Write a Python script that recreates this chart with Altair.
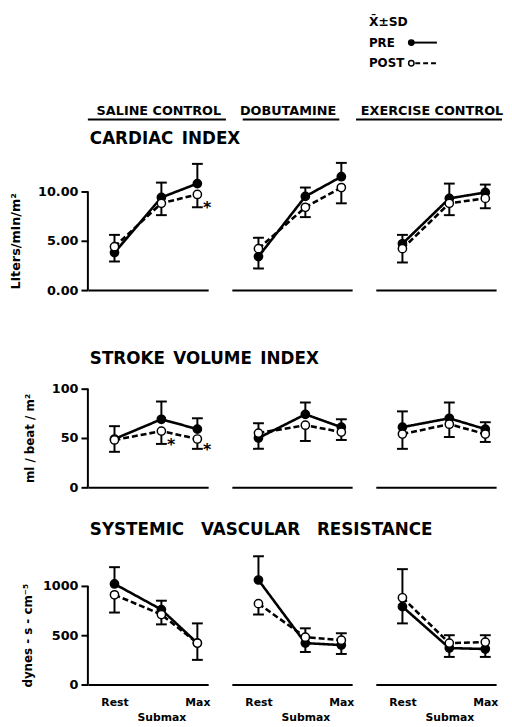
import altair as alt
import pandas as pd

# ---------------- data ----------------
stages = ["Rest", "Submax", "Max"]
stage_idx = [1, 2, 3]
conditions = ["SALINE CONTROL", "DOBUTAMINE", "EXERCISE CONTROL"]
groups = ["PRE", "POST"]
measures = ["CARDIAC INDEX", "STROKE VOLUME INDEX", "SYSTEMIC VASCULAR RESISTANCE"]
y_titles = ["Liters/min/m²", "ml / beat / m²", "dynes - s - cm⁻⁵"]
y_tick_values = [[0, 5, 10], [0, 50, 100], [0, 500, 1000]]
y_tick_formats = [".2f", "d", "d"]
legend_title = "X\u0304±SD"

# one inner list per condition (saline, dobutamine, exercise); values at Rest, Submax, Max
# "sd_end" = end of the drawn SD bar (mean + SD or mean - SD)
ci_pre_mean = [[3.8, 9.4, 10.8], [3.4, 9.5, 11.5], [4.7, 9.3, 9.9]]
ci_pre_sd_end = [[2.9, 10.9, 12.8], [2.2, 10.4, 12.9], [5.6, 10.8, 10.7]]
ci_post_mean = [[4.4, 8.8, 9.7], [4.2, 8.4, 10.4], [4.2, 8.8, 9.3]]
ci_post_sd_end = [[5.6, 7.6, 8.4], [5.3, 7.4, 8.8], [2.8, 7.6, 8.3]]

svi_pre_mean = [[49, 69, 59], [50, 74, 61], [61, 70, 59]]
svi_pre_sd_end = [[62, 87, 70], [39, 86, 69], [77, 86, 66]]
svi_post_mean = [[48, 57, 49], [55, 63, 56], [54, 64, 54]]
svi_post_sd_end = [[36, 44, 39], [65, 47, 48], [39, 51, 46]]

svr_pre_mean = [[1020, 760, 420], [1060, 420, 400], [790, 370, 360]]
svr_pre_sd_end = [[1190, 850, 620], [1300, 330, 310], [620, 280, 280]]
svr_post_mean = [[910, 710, 420], [820, 480, 450], [880, 420, 430]]
svr_post_sd_end = [[730, 610, 250], [710, 570, 520], [1170, 500, 500]]

# significant PRE vs POST differences (asterisk next to POST)
significant = [
    ("CARDIAC INDEX", "SALINE CONTROL", "Max"),
    ("STROKE VOLUME INDEX", "SALINE CONTROL", "Submax"),
    ("STROKE VOLUME INDEX", "SALINE CONTROL", "Max"),
]

series = {
    measures[0]: {"PRE": (ci_pre_mean, ci_pre_sd_end), "POST": (ci_post_mean, ci_post_sd_end)},
    measures[1]: {"PRE": (svi_pre_mean, svi_pre_sd_end), "POST": (svi_post_mean, svi_post_sd_end)},
    measures[2]: {"PRE": (svr_pre_mean, svr_pre_sd_end), "POST": (svr_post_mean, svr_post_sd_end)},
}

rows = []
for m in measures:
    for ci, cond in enumerate(conditions):
        for g in groups:
            means, ends = series[m][g]
            for si, s in enumerate(stages):
                rows.append(dict(
                    measure=m, condition=cond, group=g, stage=s, idx=stage_idx[si],
                    mean=means[ci][si], end=ends[ci][si],
                    star="*" if (g == "POST" and (m, cond, s) in significant) else "",
                ))
df = pd.DataFrame(rows)

# ---------------- layout / style ----------------
FONT = "DejaVu Sans"
PW, PH = 122, 130
y_domains = [[0, 13], [0, 130], [0, 1300]]
axis_top = [10, 100, 1000]
row_title_y = [-23, 0, -27]
row_title_gap = ["\u2002", "\u2002", "\u2003"]
y_title_x = [-73, -59, -61]
y_title_size = [13, 12, 12]
hdr_x = [72, 57, 57]
hdr_line = [(0, 140), (11, 109), (-20, 128)]
x_scale = alt.Scale(type="sqrt", domain=[0.585, 3.34], zero=False, nice=False)

label_expr = (
    f"datum.value == {stage_idx[1]} ? ['', '{stages[1]}'] : "
    f"(datum.value == {stage_idx[0]} ? '{stages[0]}' : '{stages[2]}')"
)


def one(value_col="t", value=0):
    return pd.DataFrame({value_col: [value]})


def txt(s, x, y, size, align="left"):
    return alt.Chart(one("t", s)).mark_text(
        align=align, baseline="middle", fontSize=size, fontWeight="bold", color="black"
    ).encode(text="t:N", x=alt.value(x), y=alt.value(y))


def hrule(x1, x2, y, w=2, dash=None):
    kw = dict(strokeWidth=w, color="black")
    if dash:
        kw["strokeDash"] = dash
    return alt.Chart(one()).mark_rule(**kw).encode(
        x=alt.value(x1), x2=alt.value(x2), y=alt.value(y)
    )


def dot(x, y, fill):
    return alt.Chart(one()).mark_point(
        filled=True, fill=fill, stroke="black", strokeWidth=1.5, size=30,
        opacity=1, shape="circle"
    ).encode(x=alt.value(x), y=alt.value(y))


def panel(r, c):
    m = measures[r]
    cond = conditions[c]
    d = df[(df.measure == m) & (df.condition == cond)]
    base = alt.Chart(d)

    if r == 2:
        xaxis = alt.Axis(
            values=stage_idx, labelExpr=label_expr, ticks=False, domain=True,
            domainWidth=2, domainColor="black", title=None, grid=False,
            labelFontSize=11, labelFontWeight="bold", labelColor="black",
            labelPadding=12, labelLineHeight=15, labelOverlap=False,
            labelFlush=False, labelAngle=0,
        )
    else:
        xaxis = alt.Axis(
            ticks=False, labels=False, domain=True, domainWidth=2,
            domainColor="black", title=None, grid=False,
        )
    if c == 0:
        yaxis = alt.Axis(
            values=y_tick_values[r], format=y_tick_formats[r], domain=False,
            ticks=True, tickSize=7, tickWidth=2, tickColor="black",
            labelFontSize=13, labelFontWeight="bold", labelColor="black",
            labelPadding=3, grid=False, title=y_titles[r],
            titleX=y_title_x[r], titleY=80, titleAngle=-90,
            titleBaseline="middle", titleAlign="center",
            titleFontSize=y_title_size[r], titleFontWeight="bold", titleColor="black",
        )
    else:
        yaxis = None

    yscale = alt.Scale(domain=y_domains[r], nice=False, zero=True)
    X = alt.X("idx:Q", scale=x_scale, axis=xaxis)
    Ymean = alt.Y("mean:Q", scale=yscale, axis=yaxis)
    Yend = alt.Y("end:Q", scale=yscale, axis=yaxis)

    layers = []
    if c == 0:
        layers.append(
            alt.Chart(pd.DataFrame({"lo": [0], "hi": [axis_top[r]]}))
            .mark_rule(strokeWidth=2, color="black")
            .encode(x=alt.value(0), y=alt.Y("lo:Q", scale=yscale, axis=yaxis), y2="hi:Q")
        )
    layers += [
        base.mark_rule(strokeWidth=2, color="black").encode(x=X, y=Ymean, y2="end:Q"),
        base.mark_tick(orient="horizontal", size=11, thickness=2, color="black", opacity=1)
        .encode(x=X, y=Yend),
        base.mark_line(strokeWidth=2.6, color="black").encode(
            x=X, y=Ymean, detail="group:N",
            strokeDash=alt.StrokeDash(
                "group:N", scale=alt.Scale(domain=groups, range=[[1, 0], [6, 3]]), legend=None
            ),
        ),
        base.mark_point(
            filled=True, size=70, stroke="black", strokeWidth=1.5, opacity=1, shape="circle"
        ).encode(
            x=X, y=Ymean,
            fill=alt.Fill("group:N", scale=alt.Scale(domain=groups, range=["black", "white"]), legend=None),
        ),
        base.transform_filter("datum.star != ''").mark_text(
            fontSize=16, fontWeight="bold", dx=10, dy=1, color="black"
        ).encode(x=X, y=Yend, text="star:N"),
    ]
    if c == 0:
        layers.append(txt(m.replace(" ", row_title_gap[r]), 2, row_title_y[r], 17))
    if r == 0:
        layers.append(txt(cond, hdr_x[c], -52, 13, align="center"))
        layers.append(hrule(hdr_line[c][0], hdr_line[c][1], -43))
    if r == 0 and c == 2:
        layers += [
            txt(legend_title, -7, -142, 12.5),
            txt(groups[0], -7, -121, 12),
            txt(groups[1], -7, -100, 12),
            dot(36, -121, "black"),
            hrule(36, 62, -121, w=2),
            dot(36, -100, "white"),
            hrule(40, 62, -100, w=2, dash=[5, 3]),
        ]
    return alt.layer(*layers).properties(width=PW, height=PH)


panels = [panel(r, c) for r in range(3) for c in range(3)]

chart = (
    alt.concat(*panels, columns=3, bounds="flush", spacing={"row": 70, "column": 24})
    .properties(padding={"left": 1, "top": 3, "right": 0, "bottom": 0}, background="white")
    .configure(font=FONT)
    .configure_view(stroke=None)
)

chart.save("out.html", embed_options={"renderer": "svg", "actions": False})
